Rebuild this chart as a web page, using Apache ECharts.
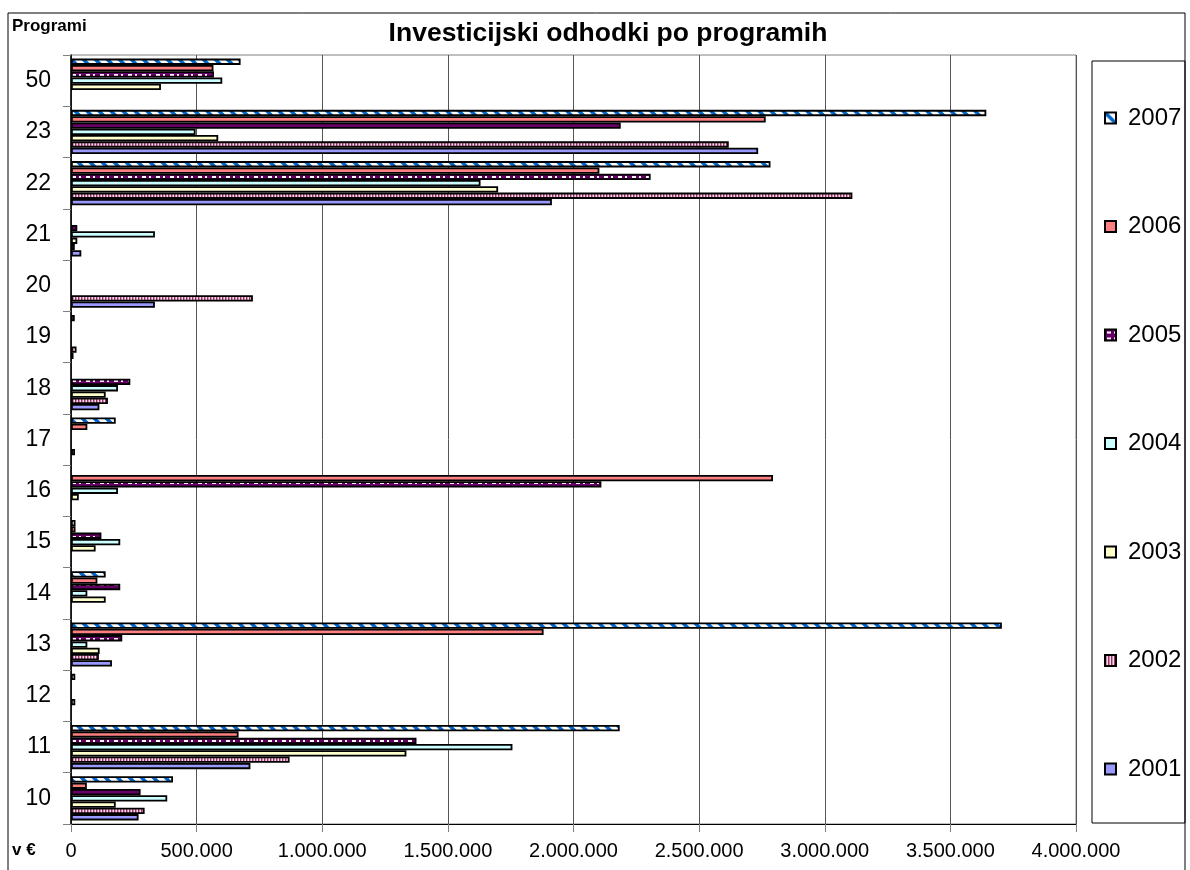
<!DOCTYPE html>
<html>
<head>
<meta charset="utf-8">
<script src="https://cdn.jsdelivr.net/npm/echarts@6/dist/echarts.min.js"></script>
<style>
  html, body { margin: 0; padding: 0; background: #fff; }
  #chart { width: 1190px; height: 870px; }
</style>
</head>
<body>
<div id="chart"></div>
<script>
// programi, bottom to top
var programs = ['10', '11', '12', '13', '14', '15', '16', '17', '18', '19', '20', '21', '22', '23', '50'];
var years = ['2001', '2002', '2003', '2004', '2005', '2006', '2007'];

// v €, null = no bar
var v2001 = [269000, 714000, null, 163000, null, null, null, null, 113000, 10000, 334000, 41000, 1914000, 2735000, null];
var v2002 = [293000, 870000, null, 111000, null, null, null, 16000, 147000, 22000, 724000, 15000, 3110000, 2618000, null];
var v2003 = [178000, 1335000, 17000, 114000, 138000, 98000, 31000, null, 138000, null, null, 25000, 1700000, 586000, 358000];
var v2004 = [383000, 1757000, null, 65000, 65000, 196000, 187000, null, 187000, null, null, 334000, 1630000, 496000, 602000];
var v2005 = [277000, 1375000, null, 204000, 196000, 121000, 2111000, null, 236000, null, null, 25000, 2307000, 2188000, 569000];
var v2006 = [63000, 667000, null, 1881000, 105000, 18000, 2794000, 65000, null, null, null, null, 2103000, 2765000, 567000];
var v2007 = [406000, 2184000, 17000, 3705000, 138000, 18000, null, 178000, null, 15000, null, null, 2784000, 3643000, 675000];

var xMax = 4000000;
var xStep = 500000;

var FONT = '"Liberation Sans", Arial, sans-serif';

function pattern(w, h, draw) {
  var c = document.createElement('canvas');
  c.width = w;
  c.height = h;
  draw(c.getContext('2d'));
  return { image: c, repeat: 'repeat' };
}

// excel-like fills
var fill2002 = pattern(3, 2, function (g) {
  g.fillStyle = '#f4e0ea'; g.fillRect(0, 0, 3, 2);
  g.fillStyle = '#993366'; g.fillRect(0, 0, 1, 2);
  g.fillStyle = '#d98cb3'; g.fillRect(1, 0, 1, 2);
});
var fill2005 = pattern(14, 6, function (g) {
  g.fillStyle = '#660066'; g.fillRect(0, 0, 14, 6);
  g.fillStyle = '#fff'; g.fillRect(2, 2, 4, 2);
  g.fillRect(9, 2, 2, 2);
});
var fill2007 = pattern(12, 12, function (g) {
  g.fillStyle = '#fff'; g.fillRect(0, 0, 12, 12);
  g.strokeStyle = '#0066cc';
  g.lineWidth = 3.5;
  for (var k = -12; k <= 12; k += 12) {
    g.beginPath();
    g.moveTo(k - 2, -2);
    g.lineTo(k + 14, 14);
    g.stroke();
  }
});

var fills = ['#9999ff', fill2002, '#ffffcc', '#ccffff', fill2005, '#ff8080', fill2007];
var values = [v2001, v2002, v2003, v2004, v2005, v2006, v2007];

function dots(n) {
  return String(n).replace(/\B(?=(\d{3})+(?!\d))/g, '.');
}

// 2007 first so that it sits on top of each group
var series = [];
for (var i = years.length - 1; i >= 0; i--) {
  series.push({
    name: years[i],
    type: 'bar',
    data: values[i],
    barGap: '0%',
    barCategoryGap: '14%',
    itemStyle: { color: fills[i], borderColor: '#000', borderWidth: 1.8 }
  });
}

var chart = echarts.init(document.getElementById('chart'));

chart.setOption({
  animation: false,
  backgroundColor: '#fff',
  textStyle: { fontFamily: FONT },
  title: {
    text: 'Investicijski odhodki po programih',
    left: 603,
    textAlign: 'center',
    top: 15,
    textStyle: { fontFamily: FONT, fontSize: 26.5, fontWeight: 'bold', color: '#000' }
  },
  graphic: [
    {
      type: 'rect', silent: true, z: -1,
      shape: { x: 8, y: 13, width: 1177, height: 880 },
      style: { fill: 'none', stroke: '#000', lineWidth: 1 }
    },
    {
      type: 'rect', silent: true, z: -1,
      shape: { x: 1092, y: 61, width: 93, height: 762 },
      style: { fill: 'none', stroke: '#000', lineWidth: 1 }
    },
    {
      type: 'text', left: 12, top: 18,
      style: { text: 'Programi', font: 'bold 17px ' + FONT, fill: '#000' }
    },
    {
      type: 'text', left: 12, top: 842,
      style: { text: 'v €', font: 'bold 17px ' + FONT, fill: '#000' }
    }
  ],
  legend: {
    orient: 'vertical',
    left: 1104,
    top: 106,
    padding: 0,
    itemWidth: 11,
    itemHeight: 11,
    itemGap: 84.5,
    icon: 'rect',
    data: years.slice().reverse(),
    textStyle: { fontFamily: FONT, fontSize: 24, lineHeight: 24, color: '#000', padding: [0, 0, 0, 7] }
  },
  grid: {
    left: 71,
    right: 114,
    top: 55,
    bottom: 46,
    show: true,
    borderColor: '#808080',
    borderWidth: 1
  },
  xAxis: {
    type: 'value',
    min: 0,
    max: xMax,
    interval: xStep,
    axisLine: { show: true, lineStyle: { color: '#000' } },
    axisTick: { show: true, length: 8, lineStyle: { color: '#808080' } },
    splitLine: { show: true, lineStyle: { color: '#555', width: 1 } },
    axisLabel: {
      margin: 17,
      fontSize: 20,
      color: '#000',
      fontFamily: FONT,
      formatter: function (v) { return dots(v); }
    }
  },
  yAxis: {
    type: 'category',
    data: programs,
    axisLine: { show: true, lineStyle: { color: '#000', width: 1.5 } },
    axisTick: { show: true, length: 8, lineStyle: { color: '#808080' } },
    axisLabel: { margin: 20, fontSize: 23, color: '#000', fontFamily: FONT }
  },
  series: series
});
</script>
</body>
</html>
